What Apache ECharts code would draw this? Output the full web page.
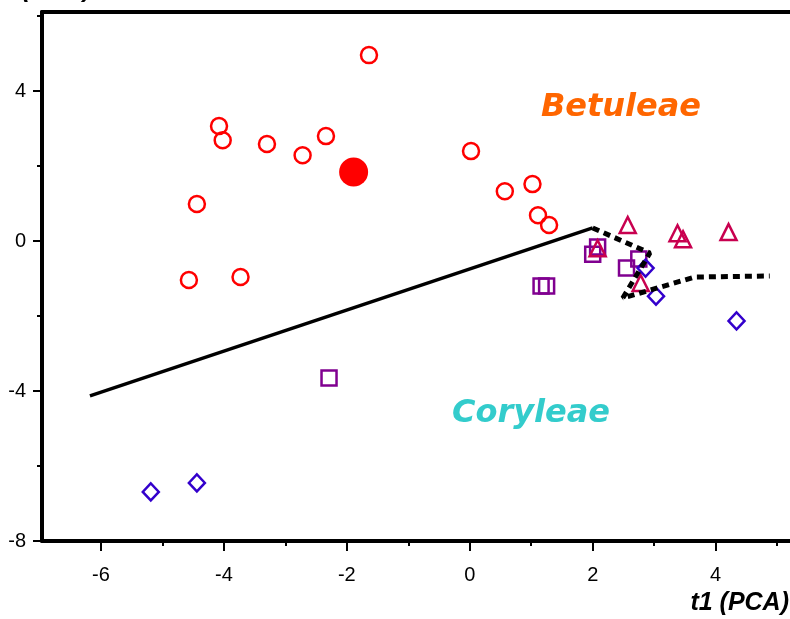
<!DOCTYPE html>
<html>
<head>
<meta charset="utf-8">
<script src="https://cdn.jsdelivr.net/npm/echarts@6/dist/echarts.min.js"></script>
<style>
  html, body { margin: 0; padding: 0; background: #fff; }
  #chart { width: 790px; height: 619px; }
</style>
</head>
<body>
<div id="chart"></div>
<script>
// Betuleae samples (open red circles)
var betuleae = [
  [-1.64, 4.96], [-4.08, 3.07], [-4.02, 2.69], [-3.30, 2.59], [-2.72, 2.29],
  [-2.34, 2.80], [-4.44, 0.99], [-4.57, -1.04], [-3.73, -0.96], [0.02, 2.40],
  [0.57, 1.33], [1.02, 1.52], [1.11, 0.69], [1.29, 0.43]
]
// highlighted sample (filled red circle)
var betuleaeMarked = [[-1.89, 1.84]]
// Coryleae groups
var squares = [
  [-2.29, -3.65], [1.16, -1.20], [1.25, -1.20], [2.00, -0.35],
  [2.08, -0.16], [2.55, -0.72], [2.75, -0.48]
]
var triangles = [
  [2.57, 0.43], [3.38, 0.21], [3.47, 0.05], [4.21, 0.24], [2.08, -0.19], [2.78, -1.12]
]
var diamonds = [
  [2.86, -0.72], [3.03, -1.47], [4.34, -2.13], [-5.19, -6.69], [-4.44, -6.45]
]
// separation lines
var solidLine = [[-6.18, -4.13], [2.00, 0.35]]
var dottedLine = [[2.00, 0.35], [2.93, -0.32], [2.49, -1.52], [3.66, -0.96], [4.88, -0.93]]

// ticks
var xMajorTicks = [-6, -4, -2, 0, 2, 4]
var xMinorTicks = [-5, -3, -1, 1, 3, 5]
var yMajorTicks = [4, 0, -4, -8]
var yMinorTicks = [6, 2, -2, -6]

var xMin = -6.96, xMax = 5.21, yMin = -8, yMax = 6.11
var font = '"Liberation Sans", Arial, sans-serif'

var chart = echarts.init(document.getElementById('chart'))

function minorAxis(pos, ticks, len, mn, mx) {
  return {
    type: 'value', position: pos, min: mn, max: mx,
    axisLine: { show: false, onZero: false },
    axisTick: { show: true, customValues: ticks, length: len, lineStyle: { color: '#000', width: 2 } },
    axisLabel: { show: false },
    splitLine: { show: false }
  }
}

var option = {
  animation: false,
  grid: { left: 42, right: 0, top: 12, bottom: 78 },
  xAxis: [
    {
      type: 'value', position: 'bottom', min: xMin, max: xMax,
      axisLine: { onZero: false, lineStyle: { color: '#000', width: 4 } },
      axisTick: { customValues: xMajorTicks, length: 10, lineStyle: { color: '#000', width: 2 } },
      axisLabel: { customValues: xMajorTicks, color: '#000', fontSize: 20, fontFamily: font, margin: 24 },
      splitLine: { show: false }
    },
    minorAxis('bottom', xMinorTicks, 5, xMin, xMax),
    // top frame line
    {
      type: 'value', position: 'top', min: xMin, max: xMax,
      axisLine: { onZero: false, lineStyle: { color: '#000', width: 4 } },
      axisTick: { show: false }, axisLabel: { show: false }, splitLine: { show: false }
    }
  ],
  yAxis: [
    {
      type: 'value', position: 'left', min: yMin, max: yMax,
      axisLine: { onZero: false, lineStyle: { color: '#000', width: 4 } },
      axisTick: { customValues: yMajorTicks, length: 9, lineStyle: { color: '#000', width: 2 } },
      axisLabel: { customValues: yMajorTicks, color: '#000', fontSize: 20, fontFamily: font, margin: 16 },
      splitLine: { show: false }
    },
    minorAxis('left', yMinorTicks, 5, yMin, yMax)
  ],
  graphic: [
    {
      type: 'text', x: 621, y: 108,
      style: { text: 'Betuleae', fill: '#ff6600', font: 'italic bold 32px "DejaVu Sans", sans-serif', align: 'center', verticalAlign: 'middle' }
    },
    {
      type: 'text', x: 531, y: 414,
      style: { text: 'Coryleae', fill: '#33cccc', font: 'italic bold 32px "DejaVu Sans", sans-serif', align: 'center', verticalAlign: 'middle' }
    },
    {
      type: 'text', x: 789, y: 603,
      style: { text: 't1 (PCA)', fill: '#000', font: 'italic bold 25px "Liberation Sans", Arial, sans-serif', align: 'right', verticalAlign: 'middle' }
    },
    {
      type: 'text', x: 42, y: -10,
      style: { text: 't2 (PCA)', fill: '#000', font: 'italic bold 25px "Liberation Sans", Arial, sans-serif', align: 'center', verticalAlign: 'middle' }
    }
  ],
  series: [
    {
      type: 'scatter', data: betuleae, symbol: 'circle', symbolSize: 16,
      itemStyle: { color: 'rgba(0,0,0,0)', borderColor: '#ff0000', borderWidth: 2.5, opacity: 1 }
    },
    {
      type: 'scatter', data: betuleaeMarked, symbol: 'circle', symbolSize: 29,
      itemStyle: { color: '#ff0000', opacity: 1 }
    },
    {
      type: 'scatter', data: squares, symbol: 'rect', symbolSize: 15,
      itemStyle: { color: 'rgba(0,0,0,0)', borderColor: '#800090', borderWidth: 2.5, opacity: 1 }
    },
    {
      type: 'scatter', data: triangles, symbol: 'triangle', symbolSize: 16,
      itemStyle: { color: 'rgba(0,0,0,0)', borderColor: '#c8004f', borderWidth: 2.5, opacity: 1 }
    },
    {
      type: 'scatter', data: diamonds, symbol: 'diamond', symbolSize: [16, 17],
      itemStyle: { color: 'rgba(0,0,0,0)', borderColor: '#3300cc', borderWidth: 2.5, opacity: 1 }
    },
    {
      type: 'line', data: solidLine, symbol: 'none',
      lineStyle: { color: '#000', width: 3.5 }
    },
    {
      type: 'line', data: dottedLine, symbol: 'none',
      lineStyle: { color: '#000', width: 5, type: [7, 5] }
    }
  ]
}

chart.setOption(option)
</script>
</body>
</html>
